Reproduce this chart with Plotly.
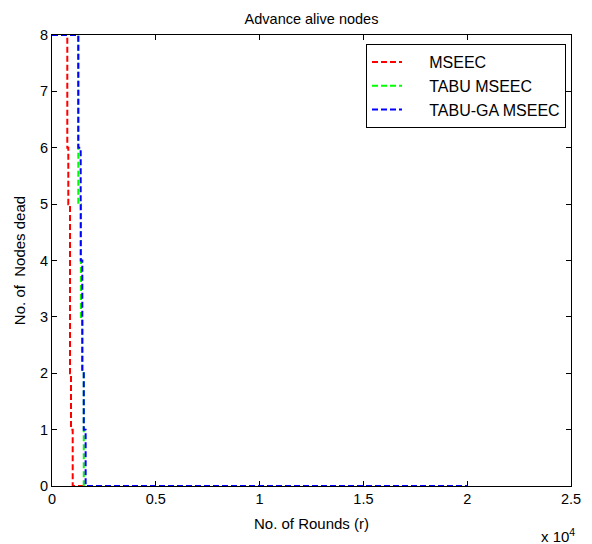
import plotly.graph_objects as go

# Rounds at which the alive-node count changes, and the count from that round on
mseec_rounds = [0, 737, 785, 867, 915, 997, 20000]
mseec_alive = [8, 6, 5, 2, 1, 0, 0]

tabu_rounds = [0, 1267, 1397, 1460, 1530, 20000]
tabu_alive = [8, 5, 3, 2, 0, 0]

tabu_ga_rounds = [0, 1267, 1382, 1460, 1530, 1620, 20000]
tabu_ga_alive = [8, 6, 4, 2, 1, 0, 0]

x_tick_vals = [0, 5000, 10000, 15000, 20000, 25000]
x_tick_text = ["0", "0.5", "1", "1.5", "2", "2.5"]
y_tick_vals = [0, 1, 2, 3, 4, 5, 6, 7, 8]

series = [
    ("MSEEC", mseec_rounds, mseec_alive, "#ff0000"),
    ("TABU MSEEC", tabu_rounds, tabu_alive, "#00ff00"),
    ("TABU-GA MSEEC", tabu_ga_rounds, tabu_ga_alive, "#0000ff"),
]

FONT = "Liberation Sans, Arial, sans-serif"
PAD = "\u00a0" * 5  # space between the legend sample line and its label

fig = go.Figure()
for name, xs, ys, color in series:
    fig.add_trace(go.Scatter(
        x=xs, y=ys, name=PAD + name, mode="lines", line_shape="hv",
        legendgroup=name,
        line=dict(color=color, width=2, dash="6px,3px"),
    ))

axis_common = dict(
    showgrid=False, zeroline=False, showline=True, linecolor="black",
    linewidth=1, mirror="allticks", ticks="inside", ticklen=5,
    tickcolor="black", tickfont=dict(family=FONT, size=14.5, color="black"),
)

fig.update_layout(
    width=592, height=544,
    margin=dict(l=52, r=21, t=35, b=58),
    paper_bgcolor="white", plot_bgcolor="white",
    font=dict(family=FONT, color="black", size=14),
    title=dict(text="Advance alive nodes", x=0.5, xref="paper",
               y=1 - 19 / 544, yanchor="middle",
               font=dict(family=FONT, size=14.5, color="black")),
    xaxis=dict(range=[0, 25000], tickvals=x_tick_vals, ticktext=x_tick_text,
               title=dict(text="No. of Rounds (r)", standoff=12,
                          font=dict(family=FONT, size=15)),
               **axis_common),
    yaxis=dict(range=[0, 8], tickvals=y_tick_vals,
               title=dict(text="No. of  Nodes dead", standoff=10,
                          font=dict(family=FONT, size=15)),
               **axis_common),
    legend=dict(x=(366 - 52) / 519, y=(486 - 44) / 451, xanchor="left",
                yanchor="top", bgcolor="white", bordercolor="black",
                borderwidth=1, font=dict(family=FONT, size=16),
                tracegroupgap=0),
    showlegend=True,
)

fig.add_annotation(
    text="x 10<sup>4</sup>", xref="paper", yref="paper", x=1, y=0,
    xanchor="right", yanchor="top", xshift=6, yshift=-38, showarrow=False,
    font=dict(family=FONT, size=15, color="black"),
)

fig.write_html("out.html")
